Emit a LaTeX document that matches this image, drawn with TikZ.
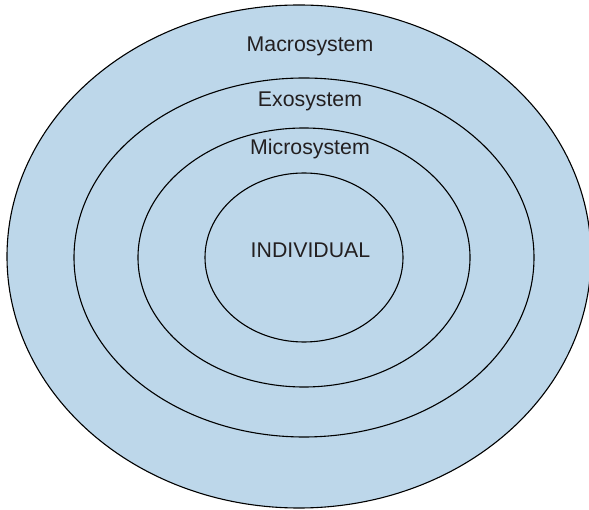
\documentclass[tikz,border=0pt]{standalone}
\usepackage{fontspec}
\setmainfont{Liberation Sans}
\usetikzlibrary{shapes.geometric}
\definecolor{ringfill}{HTML}{BDD7EA}
\definecolor{txt}{HTML}{231F20}
\begin{document}
\begin{tikzpicture}[x=1pt,y=-1pt,
  ring/.style={ellipse, draw=black, line width=1.1pt, fill=ringfill, inner sep=0pt},
  lbl/.style={font=\fontsize{21.3}{25}\selectfont, text=txt, inner sep=0pt, anchor=base}]
\useasboundingbox (0,0) rectangle (589,510);
\clip (0,0) rectangle (589,510);
\fill[white] (0,0) rectangle (589,510);
\node[ring, minimum width=584pt, minimum height=503pt] (macro) at (299,256.5) {};
\node[ring, minimum width=460pt, minimum height=359pt] (exo) at (304,257.5) {};
\node[ring, minimum width=332pt, minimum height=259pt] (micro) at (304,257.5) {};
\node[ring, minimum width=198pt, minimum height=169pt] (indiv) at (304,257.5) {};
\node[lbl] (tmacro) at (310,52) {Macrosystem};
\node[lbl] (texo) at (310,107) {Exosystem};
\node[lbl] (tmicro) at (310,155) {Microsystem};
\node[lbl] (tindiv) at (310.5,258) {INDIVIDUAL};
\end{tikzpicture}
\end{document}
